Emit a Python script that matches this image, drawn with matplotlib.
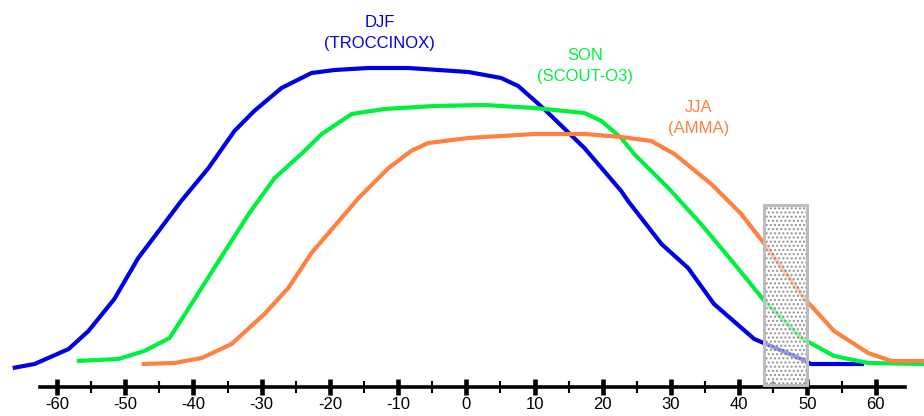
import matplotlib.pyplot as plt
from matplotlib.patches import Rectangle

plt.rcParams['font.family'] = ['Liberation Sans', 'DejaVu Sans']
plt.rcParams['axes.unicode_minus'] = False

# latitude (deg) and relative height
djf_lat = [-66.5, -63.3, -58.3, -55.4, -51.6, -48.1, -45.1, -41.8, -37.8, -34.0,
           -31.1, -27.1, -22.7, -19.3, -14.4, -8.5, 0.3, 5.1, 7.6, 11.4,
           17.3, 22.7, 23.7, 28.6, 32.5, 36.3, 42.2, 49.1, 50.5, 58.3]
djf_val = [19, 23, 38, 56, 88, 129, 156, 186, 219, 256,
           276, 299, 314, 317, 319, 319, 315, 309, 301, 278,
           239, 196, 186, 143, 119, 83, 48, 28, 23, 23]

son_lat = [-57.1, -51.0, -47.2, -43.5, -40.3, -36.3, -31.9, -28.1, -24.2, -21.2,
           -16.8, -12.0, -4.7, 2.6, 10.0, 17.3, 19.8, 22.7, 24.6, 29.6,
           34.4, 39.3, 43.7, 49.1, 53.9, 58.9, 67.1]
son_val = [26, 28, 36, 49, 83, 126, 173, 209, 233, 253,
           273, 278, 281, 282, 279, 274, 266, 249, 233, 199,
           163, 123, 86, 49, 31, 24, 23]

jja_lat = [-47.6, -42.8, -38.8, -34.4, -29.6, -26.1, -22.7, -15.8, -11.4, -8.1,
           -5.6, 0.3, 10.0, 17.3, 22.7, 27.1, 30.5, 35.9, 40.3, 43.7,
           49.5, 53.9, 58.9, 62.3, 67.1]
jja_val = [23, 24, 29, 43, 73, 99, 134, 189, 219, 236,
           244, 249, 253, 253, 250, 246, 233, 203, 173, 143,
           89, 56, 34, 26, 26]

box_lat = (43.7, 50.0)
box_top = 182

fig = plt.figure(figsize=(9.24, 4.16), dpi=100)
ax = fig.add_axes([40 / 924, 29 / 416, 865 / 924, 387 / 416])
ax.set_xlim(-62.5, 64.3)
ax.set_ylim(0, 387)

for lat, val, col in [(djf_lat, djf_val, '#0000E6'),
                      (son_lat, son_val, '#00F040'),
                      (jja_lat, jja_val, '#FF8040')]:
    ax.plot(lat, val, color=col, lw=3, clip_on=False, zorder=3,
            solid_joinstyle='round', solid_capstyle='butt')

# shaded latitude band
ax.add_patch(Rectangle((box_lat[0], 2), box_lat[1] - box_lat[0], box_top - 2,
                       facecolor='white', edgecolor='#555555', hatch='....',
                       lw=0, alpha=0.6, zorder=4))
ax.add_patch(Rectangle((box_lat[0], 2), box_lat[1] - box_lat[0], box_top - 2,
                       facecolor='none', edgecolor='#BDBDBD', lw=2.2, zorder=5))

ax.text(-12.7, 354, 'DJF\n(TROCCINOX)', color='#0000E6', fontsize=12,
        ha='center', va='center', linespacing=1.55)
ax.text(17.4, 321, 'SON\n(SCOUT-O3)', color='#00F040', fontsize=12,
        ha='center', va='center', linespacing=1.55)
ax.text(34.1, 269, 'JJA\n(AMMA)', color='#FF8040', fontsize=12,
        ha='center', va='center', linespacing=1.55)

for s in ['left', 'right', 'top']:
    ax.spines[s].set_visible(False)
ax.spines['bottom'].set_linewidth(2.6)
ax.set_yticks([])
ax.set_xticks(range(-60, 61, 10))
ax.set_xticks(range(-55, 61, 10), minor=True)
ax.tick_params(axis='x', which='major', direction='inout', length=11, width=3.3,
               labelsize=12, pad=2)
ax.tick_params(axis='x', which='minor', direction='inout', length=8.5, width=1.5)

fig.savefig('out.png', dpi=100)
